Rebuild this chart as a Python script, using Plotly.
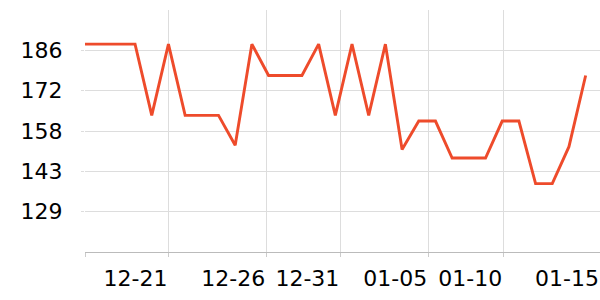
import plotly.graph_objects as go
import pandas as pd

dates = [
    "2023-12-16", "2023-12-17", "2023-12-18", "2023-12-19", "2023-12-20",
    "2023-12-21", "2023-12-22", "2023-12-23", "2023-12-24", "2023-12-25",
    "2023-12-26", "2023-12-27", "2023-12-28", "2023-12-29", "2023-12-30",
    "2023-12-31", "2024-01-01", "2024-01-02", "2024-01-03", "2024-01-04",
    "2024-01-05", "2024-01-06", "2024-01-07", "2024-01-08", "2024-01-09",
    "2024-01-10", "2024-01-11", "2024-01-12", "2024-01-13", "2024-01-14",
    "2024-01-15",
]
values = [
    188, 188, 188, 188, 163, 188, 163, 163, 163, 152.5,
    188, 177, 177, 177, 188, 163, 188, 163, 188, 151,
    161, 161, 148, 148, 148, 161, 161, 139, 139, 152,
    177,
]

x_tick_labels = ["", "12-21", "12-26", "12-31", "01-05", "01-10", "01-15"]
x_tick_day_offsets = [0, 5, 10.86, 15.30, 20.57, 25.06, 30.86]
y_tick_labels = ["129", "143", "158", "172", "186"]
y_min, y_max = 115, 200

start = pd.Timestamp(dates[0])
x_end = start + pd.Timedelta(days=30.86)
x_tickvals = [start + pd.Timedelta(days=d) for d in x_tick_day_offsets]
step = (y_max - y_min) / 6
y_tickvals = [y_min + step * (i + 1) for i in range(len(y_tick_labels))]

fig = go.Figure(
    go.Scatter(
        x=pd.to_datetime(dates), y=values, mode="lines",
        line=dict(color="#EE4B2B", width=2.9),
    )
)

fig.update_layout(
    width=600, height=300,
    margin=dict(l=85, r=0, t=10, b=48),
    paper_bgcolor="white", plot_bgcolor="white",
    showlegend=False,
    font=dict(family="DejaVu Sans", size=22, color="#000"),
)
fig.update_xaxes(
    type="date",
    range=[start, x_end],
    tickvals=x_tickvals, ticktext=x_tick_labels,
    ticklabelposition="outside left",
    ticks="outside", ticklen=4, tickcolor="#ccc",
    showgrid=True, gridcolor="#ddd", gridwidth=1,
    showline=True, linecolor="#bbb", linewidth=1,
    zeroline=False,
    ticklabelstandoff=7,
)
fig.update_yaxes(
    range=[y_min, y_max],
    tickvals=y_tickvals, ticktext=y_tick_labels,
    ticks="outside", ticklen=3, tickcolor="#ddd",
    showgrid=True, gridcolor="#ddd", gridwidth=1,
    showline=False, zeroline=False,
    ticklabelstandoff=14,
)

fig.write_html("out.html")
